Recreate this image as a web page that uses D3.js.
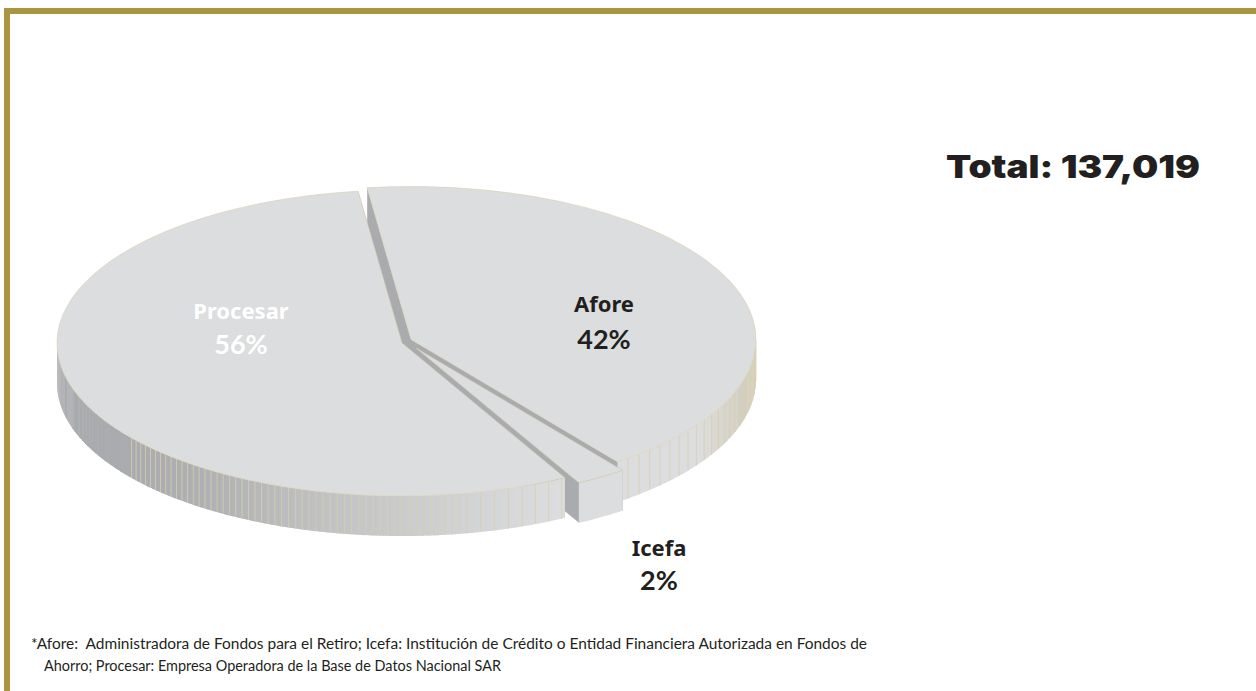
<!DOCTYPE html>
<html>
<head>
<meta charset="utf-8">
<script src="https://cdnjs.cloudflare.com/ajax/libs/d3/7.8.5/d3.min.js"></script>
<style>
  html, body { margin: 0; padding: 0; background: #fff; }
  svg { display: block; }
  text { fill: #231f20; white-space: pre; }
</style>
</head>
<body>
<svg id="chart" width="1256" height="691"></svg>
<script>
// values, the slices run a bit off the rounded labels
const categories = ['Afore', 'Icefa', 'Procesar'];
const shares = [41.8, 2.4, 55.8];
const totalLabel = 'Total: 137,019';
const footnotes = [
    '*Afore:  Administradora de Fondos para el Retiro; Icefa: Institución de Crédito o Entidad Financiera Autorizada en Fondos de',
    'Ahorro; Procesar: Empresa Operadora de la Base de Datos Nacional SAR'
];

const width = 1256;
const height = 691;
const rx = 345;
const ry = 153;
const depth = 40;
const toRad = Math.PI / 180;

// apex of each pulled out slice
const apex = {
    Afore: [411, 339.5],
    Icefa: [416, 348],
    Procesar: [402, 343]
};
const labelPos = {
    Afore: [604, 312, 349, '#231f20'],
    Icefa: [659, 556, 590, '#231f20'],
    Procesar: [241, 319, 354, '#ffffff']
};

const topColor = '#dcddde';
const wallColor = '#a9abae';
const seamColor = '#d9ceac';

const svg = d3.select('#chart');

// gold frame
svg.append('rect').attr('x', 4).attr('y', 8).attr('width', width - 4).attr('height', 6).attr('fill', '#ad9441');
svg.append('rect').attr('x', 4).attr('y', 8).attr('width', 6).attr('height', height - 8).attr('fill', '#ad9441');

const pie = d3.pie()
    .sort(null)
    .startAngle(-7.3 * toRad)
    .endAngle(352.7 * toRad);

const arc = d3.arc().innerRadius(0).outerRadius(rx);
const line = d3.line();

// rim shade by screen position, dark at the far left and light near the front
const rimShade = d3.scaleLinear()
    .domain([130, 200, 300, 450, 560, 700, 756])
    .range(['#a9abae', '#aeb0b3', '#bcbec0', '#d0d1d3', '#dcddde', '#dcddde', '#cfcbb9'])
    .clamp(true);

const slices = pie(shares);

slices.forEach((d, i) => {
    const name = categories[i];
    const [ax, ay] = apex[name];
    const point = a => [ax + rx * Math.sin(a), ay - ry * Math.cos(a)];
    const g = svg.append('g').attr('class', 'slice');

    // cut walls first, the top covers what it should
    [d.startAngle, d.endAngle].forEach(a => {
        const p = point(a);
        g.append('path')
            .attr('d', line([[ax, ay], p, [p[0], p[1] + depth], [ax, ay + depth]]) + 'Z')
            .attr('fill', wallColor);
    });

    // rim, only the part facing the viewer
    const from = Math.max(d.startAngle, 90 * toRad);
    const to = Math.min(d.endAngle, 270 * toRad);
    const steps = d3.range(from, to, 0.6 * toRad).concat([to]);
    d3.pairs(steps).forEach(([a0, a1], k) => {
        const p0 = point(a0);
        const p1 = point(a1);
        // segments overlap a little so no white hairlines show
        const p2 = point(Math.min(a1 + 0.2 * toRad, to));
        g.append('path')
            .attr('d', line([p0, p2, [p2[0], p2[1] + depth], [p0[0], p0[1] + depth]]) + 'Z')
            .attr('fill', rimShade((p0[0] + p1[0]) / 2));
        // seams, none on the small slice or the far left of the rim
        const every = p0[0] < 470 ? 2 : 4;
        if (d.value > 5 && p0[0] > 130 && k % every === 1) {
            g.append('path')
                .attr('d', line([p0, [p0[0], p0[1] + depth]]))
                .attr('stroke', seamColor)
                .attr('stroke-width', 0.8)
                .attr('fill', 'none');
        }
    });

    g.append('path')
        .attr('d', arc(d))
        .attr('transform', `translate(${ax},${ay}) scale(1,${ry / rx})`)
        .attr('fill', topColor)
        .attr('stroke', seamColor)
        .attr('stroke-width', 0.6)
        .attr('vector-effect', 'non-scaling-stroke');
});

// labels on top of every slice
slices.forEach((d, i) => {
    const name = categories[i];
    const [x, y1, y2, color] = labelPos[name];
    svg.append('text')
        .attr('x', x).attr('y', y1)
        .attr('text-anchor', 'middle')
        .attr('font-family', 'Noto Sans')
        .attr('font-weight', 700)
        .attr('font-size', 22)
        .style('fill', color)
        .text(name);
    svg.append('text')
        .attr('x', x).attr('y', y2)
        .attr('text-anchor', 'middle')
        .attr('font-family', 'Lato')
        .attr('font-weight', 700)
        .attr('font-size', 27)
        .style('fill', color)
        .text(Math.round(d.value) + '%');
});

svg.append('text')
    .attr('x', 946).attr('y', 177.5)
    .attr('font-family', 'Inter')
    .attr('font-weight', 900)
    .attr('font-size', 32)
    .attr('textLength', 254)
    .attr('lengthAdjust', 'spacingAndGlyphs')
    .text(totalLabel);

svg.append('text')
    .attr('x', 31).attr('y', 648.5)
    .attr('font-family', 'Lato')
    .attr('font-size', 14.5)
    .attr('textLength', 836)
    .attr('lengthAdjust', 'spacingAndGlyphs')
    .text(footnotes[0]);
svg.append('text')
    .attr('x', 44).attr('y', 671)
    .attr('font-family', 'Lato')
    .attr('font-size', 14.5)
    .attr('textLength', 457)
    .attr('lengthAdjust', 'spacingAndGlyphs')
    .text(footnotes[1]);
</script>
</body>
</html>
